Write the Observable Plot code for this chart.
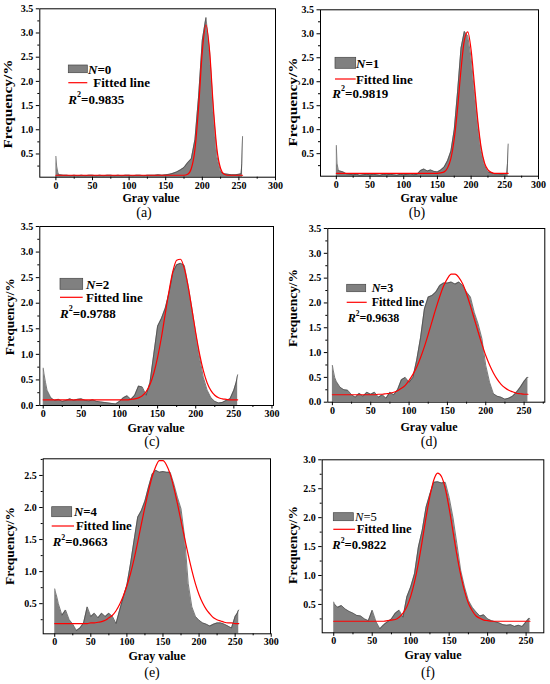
<!DOCTYPE html>
<html><head><meta charset="utf-8">
<script src="https://cdn.jsdelivr.net/npm/d3@7"></script>
<script src="https://cdn.jsdelivr.net/npm/@observablehq/plot@0.6"></script>
<style>
html,body{margin:0;padding:0;background:#fff;}
#chart{position:relative;width:550px;height:684px;overflow:hidden;background:#fff;}
#chart svg{position:absolute;left:0;top:0;}
</style></head><body><div id="chart"></div>
<script>
// ---------- data ----------
const gray = [0,1,3,
  5,10,15,20,25,30,35,40,45,50,
  55,60,65,70,75,80,85,90,95,100,
  105,110,115,120,125,130,135,140,145,150,
  155,160,165,170,175,180,185,190,195,200,
  205,210,215,220,225,230,235,240,245,250,
  253,254,255];
const histA = [0.45,0.25,0.09,
  0.07,0.06,0.06,0.05,0.06,0.05,0.06,0.05,0.06,0.06,
  0.05,0.06,0.05,0.06,0.06,0.05,0.06,0.05,0.06,0.06,
  0.05,0.06,0.06,0.05,0.06,0.06,0.06,0.07,0.06,0.07,
  0.08,0.10,0.13,0.17,0.22,0.32,0.40,0.80,1.70,2.85,
  3.32,2.60,1.40,0.45,0.13,0.09,0.08,0.07,0.07,0.08,
  0.09,0.30,0.86];
const histB = [0.67,0.30,0.15,
  0.14,0.12,0.08,0.07,0.06,0.07,0.05,0.06,0.07,0.06,
  0.07,0.06,0.05,0.07,0.06,0.07,0.06,0.05,0.07,0.06,
  0.07,0.08,0.06,0.07,0.15,0.18,0.14,0.16,0.13,0.12,
  0.16,0.22,0.35,0.55,1.00,1.80,2.70,3.05,2.95,2.50,
  1.80,1.10,0.55,0.25,0.12,0.10,0.08,0.08,0.07,0.08,
  0.08,0.30,0.70];
const histC = [0.73,0.62,0.45,
  0.30,0.15,0.10,0.12,0.08,0.10,0.13,0.10,0.12,0.13,
  0.10,0.09,0.11,0.08,0.07,0.06,0.05,0.04,0.03,0.08,
  0.15,0.19,0.12,0.20,0.38,0.36,0.20,0.45,1.00,1.55,
  1.70,1.90,2.20,2.60,2.75,2.78,2.74,2.35,1.90,1.40,
  0.95,0.55,0.30,0.15,0.08,0.05,0.06,0.10,0.13,0.30,
  0.45,0.52,0.60];
const histD = [0.74,0.65,0.50,
  0.42,0.30,0.25,0.24,0.15,0.10,0.18,0.12,0.20,0.16,
  0.20,0.10,0.15,0.08,0.20,0.15,0.25,0.45,0.50,0.40,
  0.50,0.85,1.30,1.88,2.12,2.15,2.22,2.35,2.40,2.40,
  2.42,2.38,2.42,2.35,2.22,2.12,1.81,1.58,1.28,0.74,
  0.40,0.17,0.12,0.10,0.06,0.08,0.12,0.20,0.30,0.42,
  0.48,0.50,0.50];
const histE = [0.73,0.68,0.60,
  0.50,0.32,0.40,0.25,0.18,0.08,0.12,0.20,0.45,0.30,
  0.35,0.28,0.35,0.30,0.35,0.30,0.19,0.40,0.60,0.79,
  1.12,1.49,1.85,1.95,2.10,2.32,2.52,2.58,2.55,2.56,
  2.55,2.55,2.37,2.16,1.98,1.54,0.81,0.45,0.30,0.24,
  0.20,0.18,0.15,0.18,0.20,0.20,0.18,0.15,0.12,0.30,
  0.35,0.38,0.40];
const histF = [0.54,0.50,0.48,
  0.45,0.48,0.42,0.38,0.35,0.31,0.30,0.25,0.22,0.40,
  0.20,0.08,0.15,0.20,0.25,0.35,0.40,0.28,0.63,0.80,
  1.03,1.49,1.78,2.18,2.41,2.61,2.62,2.60,2.61,2.35,
  2.00,1.55,1.09,0.80,0.57,0.45,0.37,0.30,0.32,0.25,
  0.22,0.20,0.18,0.15,0.14,0.15,0.12,0.14,0.12,0.20,
  0.25,0.26,0.25];

const fitGray = [0,5,10,15,20,25,30,35,40,45,
  50,55,60,65,70,75,80,85,90,95,
  100,105,110,115,120,125,130,135,140,145,
  150,155,160,165,170,175,180,185,190,195,
  200,205,210,215,220,225,230,235,240,245,
  250,255];
const fitA = [0.06,0.06,0.06,0.06,0.06,0.06,0.06,0.06,0.06,0.06,
  0.06,0.06,0.06,0.06,0.06,0.06,0.06,0.06,0.06,0.06,
  0.06,0.06,0.06,0.06,0.06,0.06,0.06,0.06,0.06,0.06,
  0.06,0.06,0.06,0.06,0.06,0.06,0.08,0.20,0.60,1.48,
  2.62,3.17,2.62,1.48,0.60,0.20,0.08,0.06,0.06,0.06,
  0.06,0.06];
const fitB = [0.09,0.09,0.09,0.09,0.09,0.09,0.09,0.09,0.09,0.09,
  0.09,0.09,0.09,0.09,0.09,0.09,0.09,0.09,0.09,0.09,
  0.09,0.09,0.09,0.09,0.09,0.09,0.09,0.09,0.09,0.09,
  0.09,0.10,0.12,0.20,0.40,0.81,1.46,2.25,2.87,3.04,
  2.66,1.93,1.18,0.62,0.30,0.16,0.11,0.09,0.09,0.09,
  0.09,0.09];
const fitC = [0.11,0.11,0.11,0.11,0.11,0.11,0.11,0.11,0.11,0.11,
  0.11,0.11,0.11,0.11,0.11,0.11,0.11,0.11,0.11,0.11,
  0.11,0.11,0.11,0.12,0.13,0.15,0.19,0.27,0.41,0.63,
  0.94,1.33,1.79,2.24,2.62,2.84,2.86,2.68,2.33,1.88,
  1.42,1.01,0.68,0.44,0.29,0.20,0.15,0.13,0.12,0.11,
  0.11,0.11];
const fitD = [0.15,0.15,0.15,0.15,0.15,0.15,0.15,0.15,0.15,0.15,
  0.15,0.15,0.16,0.16,0.17,0.18,0.20,0.23,0.28,0.34,
  0.44,0.56,0.71,0.90,1.12,1.37,1.63,1.89,2.13,2.34,
  2.49,2.58,2.58,2.51,2.38,2.18,1.94,1.68,1.42,1.17,
  0.94,0.75,0.59,0.46,0.36,0.29,0.24,0.21,0.18,0.17,
  0.16,0.16];
const fitE = [0.19,0.19,0.19,0.19,0.19,0.19,0.19,0.19,0.19,0.19,
  0.20,0.20,0.21,0.22,0.24,0.28,0.32,0.39,0.49,0.62,
  0.78,0.97,1.20,1.46,1.74,2.01,2.26,2.48,2.64,2.73,
  2.73,2.66,2.52,2.31,2.06,1.79,1.52,1.26,1.02,0.81,
  0.64,0.51,0.41,0.34,0.28,0.25,0.23,0.21,0.20,0.20,
  0.19,0.19];
const fitF = [0.21,0.21,0.21,0.21,0.21,0.21,0.21,0.21,0.21,0.21,
  0.21,0.21,0.21,0.21,0.22,0.23,0.24,0.28,0.35,0.46,
  0.64,0.89,1.21,1.60,2.01,2.37,2.65,2.77,2.71,2.50,
  2.16,1.76,1.36,1.01,0.73,0.52,0.39,0.30,0.26,0.23,
  0.22,0.21,0.21,0.21,0.21,0.21,0.21,0.21,0.21,0.21,
  0.21,0.21];

const seriesN = ["0","1","2","3","4","5"];
const r2Values = ["0.9835","0.9819","0.9788","0.9638","0.9663","0.9822"];
const panelLetters = ["(a)","(b)","(c)","(d)","(e)","(f)"];
const xTicks300 = [0,50,100,150,200,250,300];
const xTicks250 = [0,50,100,150,200,250];
const yTicks35 = [0.5,1.0,1.5,2.0,2.5,3.0,3.5];
const yTicks35z = [0.0,0.5,1.0,1.5,2.0,2.5,3.0,3.5];
const yTicks25 = [0.5,1.0,1.5,2.0,2.5];
const yTicks30 = [0.5,1.0,1.5,2.0,2.5,3.0];

// ---------- layout ----------
const panels = [
  {hist: histA, fit: fitA, box:[39.3,275,8.3,176.7], x:[-22,300], y:[0.02,3.5], xt:xTicks300, yt:yTicks35,
   yl:[8,104,89], xl:[151,198], lt:[144,212],
   sw:[68.3,65,19,7.7], nt:[88,68.8], ly:82.7, lx:[68.3,87.3], ft:[93.3,82.7], rt:[68.3,99], fs:13, nBold:true},
  {hist: histB, fit: fitB, box:[320,538,9.3,175.7], x:[-23.5,300], y:[0.03,3.5], xt:xTicks300, yt:yTicks35,
   yl:[293,102,89], xl:[429,197.5], lt:[417,212],
   sw:[335,57.3,20.7,11], nt:[356,62.7], ly:79, lx:[335,355.7], ft:[356,79], rt:[332.3,93.3], fs:13, nBold:true},
  {hist: histC, fit: fitC, box:[39.3,273,226,405], x:[-4.5,302], y:[0,3.5], xt:xTicks300, yt:yTicks35z,
   yl:[10,316.7,77], xl:[156,427.5], lt:[152,441],
   sw:[60,278.3,22.7,11], nt:[86,283.5], ly:297.3, lx:[60,82.7], ft:[86,297.5], rt:[60,313.3], fs:13, nBold:true},
  {hist: histD, fit: fitD, box:[327.3,544.3,228,401.7], x:[-6,277], y:[0,3.5], xt:xTicks250, yt:yTicks35z,
   yl:[293,308,78], xl:[429,427], lt:[429,441],
   sw:[346.7,284.3,19,7.4], nt:[371.7,288.3], ly:302.3, lx:[346.7,366.7], ft:[371.7,302.3], rt:[347.7,317.7], fs:12, nBold:true},
  {hist: histE, fit: fitE, box:[42.7,270,458.3,633.3], x:[-16,299], y:[0.03,2.76], xt:xTicks300, yt:yTicks25,
   yl:[10,546,78], xl:[157,655.5], lt:[152,672],
   sw:[51.7,506.7,20,10], nt:[74,511.7], ly:526, lx:[51.7,74], ft:[76,526], rt:[52.7,541.7], fs:12.8, nBold:true},
  {hist: histF, fit: fitF, box:[321.7,543.3,459.3,632.3], x:[-15,273], y:[0.01,3.0], xt:xTicks250, yt:yTicks30,
   yl:[293,545,78], xl:[433,655], lt:[428,672],
   sw:[333.3,512.7,20,8], nt:[355,516.7], ly:529.3, lx:[333.3,355], ft:[356.7,529.3], rt:[332.3,545], fs:12.6, nBold:false}
];

const W = 550, H = 684;
const FONT = "'Liberation Serif', 'Times New Roman', serif";
const chart = document.getElementById("chart");

panels.forEach((p) => {
  const histData = gray.map((g, j) => ({g, v: p.hist[j]}));
  const fitData = fitGray.map((g, j) => ({g, v: p.fit[j]}));
  const [L, R, T, B] = p.box;
  const minorX = d3.range(25, p.x[1] + 0.001, 50).filter(v => v >= p.x[0]);
  const minorY = d3.range(0.25, p.y[1] + 0.001, 0.5).filter(v => v >= p.y[0]);
  const svg = Plot.plot({
    width: W, height: H,
    marginLeft: L, marginRight: W - R, marginTop: T, marginBottom: H - B,
    style: {background: "transparent", fontFamily: FONT, fontSize: "10px", fontWeight: "bold", color: "black", overflow: "visible"},
    x: {domain: p.x, label: null},
    y: {domain: p.y, label: null},
    marks: [
      Plot.areaY(histData, {x: "g", y: "v", fill: "#808080", clip: true}),
      Plot.lineY(histData, {x: "g", y: "v", stroke: "#454545", strokeWidth: 0.7, clip: true}),
      Plot.lineY(fitData, {x: "g", y: "v", stroke: "#ff0000", strokeWidth: 1.2, curve: "monotone-x"}),
      Plot.frame({stroke: "black", strokeWidth: 1}),
      Plot.axisX({ticks: p.xt, tickSize: 3.5, tickPadding: 1, tickFormat: d => String(d), label: null}),
      Plot.axisX({ticks: minorX, tickSize: 2, tickFormat: () => "", label: null}),
      Plot.axisY({ticks: p.yt, tickSize: 3.5, tickPadding: 3, tickFormat: d3.format(".1f"), label: null}),
      Plot.axisY({ticks: minorY, tickSize: 2, tickFormat: () => "", label: null})
    ]
  });
  chart.appendChild(svg);
});

// ---------- labels & legends ----------
const ov = d3.select(chart).append("svg")
  .attr("width", W).attr("height", H)
  .attr("font-family", FONT);

panels.forEach((p, i) => {
  ov.append("text")
    .attr("transform", `translate(${p.yl[0]},${p.yl[1]}) rotate(-90)`)
    .attr("text-anchor", "middle").attr("dy", "0.35em")
    .attr("font-size", 12).attr("font-weight", "bold")
    .attr("textLength", p.yl[2]).attr("lengthAdjust", "spacingAndGlyphs")
    .text("Frequency/%");
  ov.append("text")
    .attr("x", p.xl[0]).attr("y", p.xl[1])
    .attr("text-anchor", "middle").attr("dominant-baseline", "central")
    .attr("font-size", 12).attr("font-weight", "bold")
    .text("Gray value");
  ov.append("text")
    .attr("x", p.lt[0]).attr("y", p.lt[1])
    .attr("text-anchor", "middle").attr("dominant-baseline", "central")
    .attr("font-size", 14)
    .text(panelLetters[i]);
  ov.append("rect")
    .attr("x", p.sw[0]).attr("y", p.sw[1]).attr("width", p.sw[2]).attr("height", p.sw[3])
    .attr("fill", "#808080").attr("stroke", "#454545").attr("stroke-width", 0.7);
  const nt = ov.append("text")
    .attr("x", p.nt[0]).attr("y", p.nt[1]).attr("dominant-baseline", "central")
    .attr("font-size", p.fs).attr("font-weight", p.nBold ? "bold" : "normal");
  nt.append("tspan").attr("font-style", "italic").text("N");
  nt.append("tspan").text("=" + seriesN[i]);
  ov.append("line")
    .attr("x1", p.lx[0]).attr("x2", p.lx[1]).attr("y1", p.ly).attr("y2", p.ly)
    .attr("stroke", "#ff0000").attr("stroke-width", 1.2);
  ov.append("text")
    .attr("x", p.ft[0]).attr("y", p.ft[1]).attr("dominant-baseline", "central")
    .attr("font-size", p.fs).attr("font-weight", "bold")
    .text("Fitted line");
  const rt = ov.append("text")
    .attr("x", p.rt[0]).attr("y", p.rt[1]).attr("dominant-baseline", "central")
    .attr("font-size", p.fs).attr("font-weight", "bold");
  rt.append("tspan").attr("font-style", "italic").text("R");
  rt.append("tspan").attr("font-size", p.fs * 0.62).attr("dy", -p.fs * 0.38).text("2");
  rt.append("tspan").attr("dy", p.fs * 0.38).text("=" + r2Values[i]);
});
</script>
</body></html>
